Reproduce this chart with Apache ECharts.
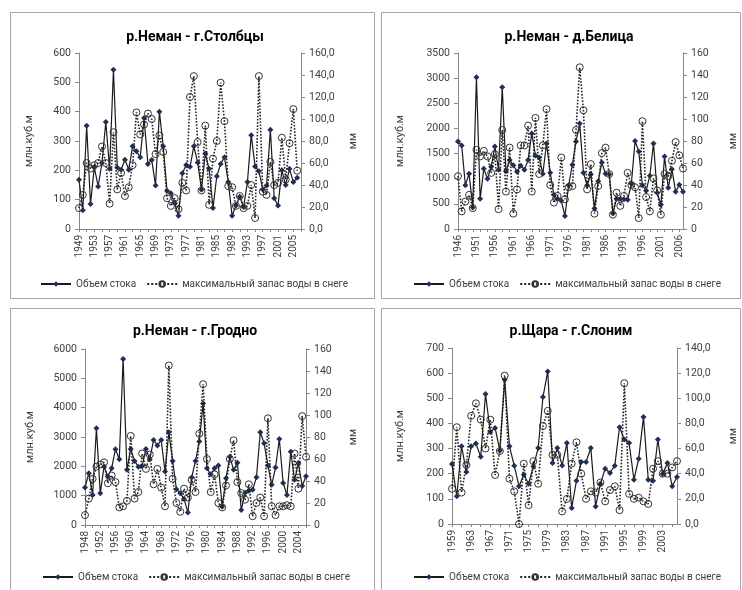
<!DOCTYPE html>
<html><head><meta charset="utf-8">
<script src="https://cdn.jsdelivr.net/npm/echarts@6/dist/echarts.min.js"></script>
<style>html,body{margin:0;padding:0;background:#fff}#c{width:742px;height:590px}</style>
</head><body><div id="c"></div>
<script>
// ---- Data ----
const titles = ['р.Неман - г.Столбцы','р.Неман - д.Белица','р.Неман - г.Гродно','р.Щара - г.Слоним'];
const seriesNames = ['Объем стока','максимальный запас воды в снеге'];
const leftAxisName = 'млн.куб.м';
const rightAxisName = 'мм';

const years1 = []; for (let y = 1949; y <= 2007; y++) years1.push(String(y));
const stok1 = [168,64,352,85,211,145,225,365,205,543,
  210,202,236,202,282,265,245,378,222,235,
  148,400,282,130,122,88,45,190,218,212,
  282,227,134,257,205,72,180,222,245,160,
  45,80,110,75,160,320,213,197,135,148,
  338,105,80,200,150,205,160,175,null];
const snow1 = [19,31,60,55,58,60,75,60,23,88,
  36,51,30,38,58,106,86,95,105,100,
  68,85,70,28,21,28,18,42,35,120,
  139,79,35,94,22,64,80,133,98,39,
  38,21,30,19,21,40,10,139,34,31,
  61,40,42,83,45,78,109,53,null];

const years2 = []; for (let y = 1946; y <= 2007; y++) years2.push(String(y));
const stok2 = [1740,1660,870,1100,430,3020,600,1200,1000,1240,
  1640,1180,2820,1150,1370,1270,1140,1260,1180,1370,
  1900,1460,1420,1100,1700,1120,680,600,560,260,
  870,1280,1740,2100,1120,870,1090,410,950,1320,
  1100,1090,310,600,600,590,580,900,1750,1540,
  870,760,1060,1700,720,480,1440,820,1190,740,
  880,740];
const snow2 = [48,16,25,31,19,72,66,71,66,51,
  68,18,90,34,74,14,36,76,76,94,
  34,101,50,76,109,40,24,30,65,27,
  38,39,90,147,108,36,59,14,39,69,
  74,50,13,33,21,30,51,40,38,10,
  98,29,16,46,35,13,50,48,62,79,
  67,55];

const years3 = []; for (let y = 1948; y <= 2006; y++) years3.push(String(y));
const stok3 = [1275,1765,1025,3300,1080,1990,1650,1935,2585,2240,
  5660,1880,2595,2185,1990,2015,2595,2240,2900,2710,
  2900,1820,3160,2185,1220,1080,890,430,1620,2185,
  2850,4145,1935,1730,1935,2025,625,1590,2330,1880,
  2125,510,1100,1170,1200,1630,3160,2790,2030,1370,
  1960,2930,1430,1025,2500,1540,2110,1330,1660];
const snow3 = [9,24,42,53,55,57,38,45,39,16,
  17,22,81,24,30,65,51,64,37,51,
  34,17,145,42,20,12,33,25,41,30,
  83,128,60,30,46,20,16,36,60,77,
  39,29,23,37,8,20,25,8,97,17,
  9,17,17,18,17,65,33,99,62];

const years4 = []; for (let y = 1959; y <= 2006; y++) years4.push(String(y));
const stok4 = [239,110,309,207,309,320,267,517,366,382,
  292,574,309,232,150,196,160,229,302,505,
  607,243,302,233,322,64,172,247,247,302,
  70,160,220,203,232,385,336,322,176,260,
  426,176,172,336,199,243,150,187];
const snow4 = [28,77,25,47,86,96,83,60,83,39,
  58,118,36,26,0,48,15,50,32,78,
  90,55,55,10,20,48,65,40,20,26,
  25,33,18,27,30,11,112,24,20,21,
  18,16,44,50,40,40,45,50];

// axis ranges and label settings
const leftMax = [600,3500,6000,700], leftInt = [100,500,1000,100];
const rightMax = [160,160,160,140], rightInt = [20,20,20,20];
const rightDec = [1,0,0,1];
const labelEvery = [4,5,4,4];

// ---- Layout ----
const panels = [
  {box:[10,12,364,286], grid:[79,53,222,176], title:[190,25], lgap:44, rgap:47, legend:[40,279], years:years1, stok:stok1, snow:snow1},
  {box:[381,12,359,286], grid:[458,53,225,176], title:[564,25], lgap:52, rgap:45, legend:[413,279], years:years2, stok:stok2, snow:snow2},
  {box:[10,308,364,300], grid:[85,349,221,176], title:[190,319], lgap:49, rgap:42, legend:[42,572], years:years3, stok:stok3, snow:snow3},
  {box:[381,308,359,300], grid:[452,348,225,176], title:[566,319], lgap:46, rgap:51, legend:[413,572], years:years4, stok:stok4, snow:snow4}
];

const FONT = 'Roboto';
const txt = '#404040';
const axisGray = '#868686';

const option = {
  backgroundColor:'#fff',
  animation:false,
  textStyle:{fontFamily:FONT},
  title:[], grid:[], xAxis:[], yAxis:[], series:[], legend:[], graphic:[]
};

panels.forEach((p,i)=>{
  option.graphic.push({type:'rect', shape:{x:p.box[0]+0.5,y:p.box[1]+0.5,width:p.box[2],height:p.box[3]},
    style:{fill:'none',stroke:'#a6a6a6',lineWidth:1}, silent:true, z:-10});
  option.title.push({text:titles[i], left:p.title[0], top:p.title[1], textAlign:'center',
    textStyle:{fontFamily:FONT,fontWeight:'bold',fontSize:14,color:'#000'}});
  option.grid.push({left:p.grid[0], top:p.grid[1], width:p.grid[2], height:p.grid[3], containLabel:false});
  option.xAxis.push({type:'category', gridIndex:i, data:p.years, boundaryGap:false,
    axisLine:{lineStyle:{color:axisGray}},
    axisTick:{show:true, interval:1, length:3, lineStyle:{color:axisGray}},
    axisLabel:{rotate:90, interval:labelEvery[i]-1, fontSize:10, color:txt, margin:6, fontFamily:FONT},
    splitLine:{show:false}});
  option.yAxis.push({type:'value', gridIndex:i, position:'left', min:0, max:leftMax[i], interval:leftInt[i],
    name:leftAxisName, nameLocation:'middle', nameGap:p.lgap, nameRotate:90,
    nameTextStyle:{fontSize:11,color:txt,fontFamily:FONT},
    axisLine:{show:true,lineStyle:{color:axisGray}},
    axisTick:{show:true,length:4,lineStyle:{color:axisGray}},
    axisLabel:{fontSize:10.5,color:txt,margin:8,fontFamily:FONT, formatter:v=>String(v)},
    splitLine:{show:false}});
  const dec = rightDec[i];
  option.yAxis.push({type:'value', gridIndex:i, position:'right', min:0, max:rightMax[i], interval:rightInt[i],
    name:rightAxisName, nameLocation:'middle', nameGap:p.rgap, nameRotate:90,
    nameTextStyle:{fontSize:11,color:txt,fontFamily:FONT},
    axisLine:{show:true,lineStyle:{color:axisGray}},
    axisTick:{show:true,length:4,lineStyle:{color:axisGray}},
    axisLabel:{fontSize:10.5,color:txt,margin:8,fontFamily:FONT,
      formatter:v=>dec?v.toFixed(1).replace('.',','):String(v)},
    splitLine:{show:false}});
  option.series.push({name:seriesNames[0], type:'line', xAxisIndex:i, yAxisIndex:2*i, data:p.stok,
    symbol:'diamond', symbolSize:6, showAllSymbol:true,
    lineStyle:{color:'#1a1a1a',width:1.2}, itemStyle:{color:'#1f2f55'}, z:2});
  option.series.push({name:seriesNames[1], type:'line', xAxisIndex:i, yAxisIndex:2*i+1, data:p.snow,
    symbol:'circle', symbolSize:7, showAllSymbol:true,
    lineStyle:{color:'#222',width:1.6,type:'dotted'},
    itemStyle:{color:'rgba(255,255,255,0)',borderColor:'#333',borderWidth:1}, z:3});
  option.legend.push({left:p.legend[0], top:p.legend[1], width:360, orient:'horizontal',
    data:seriesNames, itemWidth:30, itemHeight:7, itemGap:10, selectedMode:false, padding:0,
    textStyle:{fontSize:10,color:txt,fontFamily:FONT}});
});

const chart = echarts.init(document.getElementById('c'), null, {renderer:'canvas'});
chart.setOption(option);
</script></body></html>
